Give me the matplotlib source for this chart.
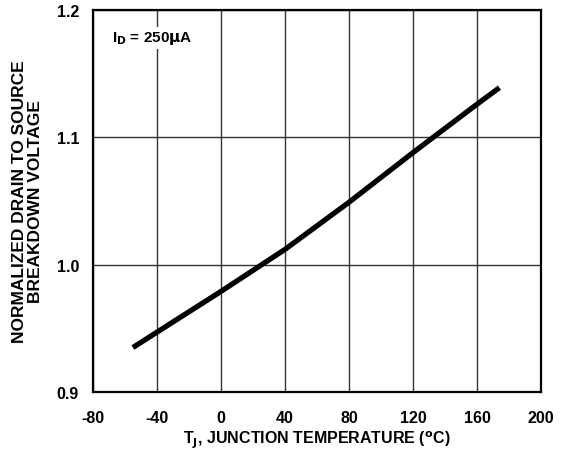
import matplotlib.pyplot as plt

# values
temp_c = [-55, -40, 0, 40, 80, 120, 160, 174]
bv_norm = [0.935, 0.947, 0.979, 1.012, 1.049, 1.088, 1.126, 1.139]

x_ticks = [-80, -40, 0, 40, 80, 120, 160, 200]
y_ticks = [0.9, 1.0, 1.1, 1.2]

plt.rcParams['font.family'] = ['Liberation Sans', 'DejaVu Sans']
plt.rcParams['font.weight'] = 'bold'

fig = plt.figure(figsize=(5.63, 4.56), dpi=100)
ax = fig.add_axes([0.165, 0.138, 0.796, 0.838])

ax.plot(temp_c, bv_norm, color='black', lw=3.8, solid_capstyle='butt', zorder=3)

ax.set_xlim(-80, 200)
ax.set_ylim(0.9, 1.2)
ax.set_xticks(x_ticks)
ax.set_yticks(y_ticks)
ax.set_xticklabels([str(t) for t in x_ticks], fontsize=11.5, fontweight='bold')
ax.set_yticklabels([f"{t:.1f}" for t in y_ticks], fontsize=11.5, fontweight='bold')
ax.tick_params(axis='x', length=0, pad=13)
ax.tick_params(axis='y', length=0, pad=10)
ax.grid(True, color='#333333', lw=1.0)
for s in ax.spines.values():
    s.set_linewidth(1.6)

ax.set_xlabel(r"T$_\mathbf{J}$, JUNCTION TEMPERATURE ($^\mathbf{o}$C)", fontsize=11.5, fontweight='bold', labelpad=3)
ax.set_ylabel("NORMALIZED DRAIN TO SOURCE\nBREAKDOWN VOLTAGE", fontsize=12.5, fontweight='bold',
              linespacing=1.05, labelpad=10)

ax.text(-68, 1.178, r"I$_\mathbf{D}$ = 250$\mathbf{\mu}$A", fontsize=11, fontweight='bold',
        va='center', ha='left', zorder=4,
        bbox=dict(facecolor='white', edgecolor='none', pad=1.5))

plt.savefig('out.png', dpi=100)
